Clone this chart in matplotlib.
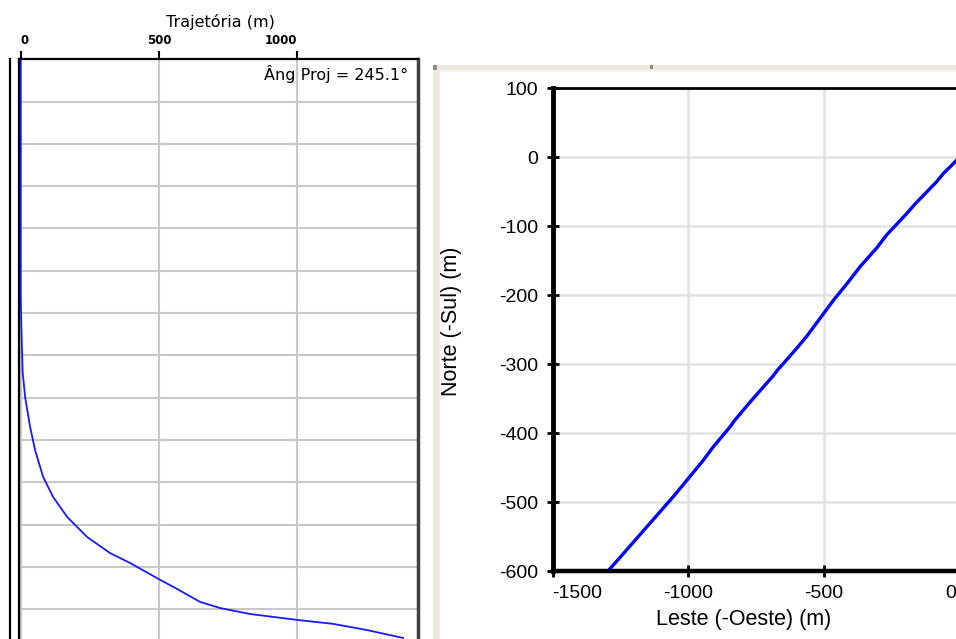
import matplotlib
matplotlib.use("Agg")
import matplotlib.pyplot as plt
from matplotlib.patches import Rectangle
from matplotlib.lines import Line2D
from matplotlib.transforms import ScaledTranslation

plt.rcParams['axes.unicode_minus'] = False

W, H = 956, 639

# perfil: afastamento horizontal (m) x profundidade (m)
afastamento = [0, 0, 3, 7, 16, 34, 52, 81, 117, 168, 240, 323, 395, 504, 565,
               648, 721, 829, 999, 1129, 1252, 1382]
profundidade = [0, 843, 971, 1109, 1198, 1304, 1386, 1481, 1552, 1623, 1694,
                1751, 1786, 1846, 1878, 1924, 1946, 1967, 1988, 2002, 2024, 2052]
ticks_traj = [0, 500, 1000]
ang_proj = 245.1

# planta: leste x norte (m)
leste = [0, -27, -58, -83, -132, -162, -193, -267, -304, -365, -414, -464, -513,
         -562, -598, -629, -672, -685, -770, -832, -844, -906, -948, -992, -1053,
         -1151, -1249, -1292]
norte = [0, -11, -23, -35, -55, -67, -81, -112, -131, -158, -183, -207, -233,
         -259, -276, -290, -309, -316, -354, -383, -390, -419, -441, -462, -491,
         -535, -579, -598]
ticks_leste = [-1500, -1000, -500, 0]
ticks_norte = [100, 0, -100, -200, -300, -400, -500, -600]


def fig_box(x0, y0, x1, y1):
    # pixel box (top-left origin) -> figure fraction rect
    return [x0 / W, 1 - y1 / H, (x1 - x0) / W, (y1 - y0) / H]


fig = plt.figure(figsize=(W / 100, H / 100), dpi=100)
fig.patch.set_facecolor('white')

# moldura bege do painel da direita
bege = '#ECE9D8'
for x0, y0, x1, y1, c in [(433, 65, 956, 70, bege), (433, 70, 956, 72, '#F6F5EF'),
                          (433, 65, 440, 639, bege),
                          (433, 65, 437, 70, '#8C8C8C'), (650, 65, 653, 69, '#8C8C8C')]:
    r = fig_box(x0, y0, x1, y1)
    fig.patches.append(Rectangle((r[0], r[1]), r[2], r[3], transform=fig.transFigure,
                                 facecolor=c, edgecolor='none', zorder=0))

# linha vertical à esquerda do perfil
fig.add_artist(Line2D([10 / W, 10 / W], [0, 1 - 59 / H], transform=fig.transFigure,
                      color='black', lw=1.6))

# ---------------- perfil (trajetória) ----------------
ax1 = fig.add_axes(fig_box(18.5, 59.3, 417.7, 700))
ax1.plot(afastamento, profundidade, color='#1a1aff', lw=1.3)
ax1.set_xlim(-8, 1435)
ax1.set_ylim(2272, 0)
ax1.xaxis.tick_top()
ax1.set_xticks(ticks_traj)
ax1.set_xticklabels([str(t) for t in ticks_traj], fontfamily='DejaVu Sans',
                    fontsize=8.5, fontweight='bold')
for lab, ha in zip(ax1.get_xticklabels(), ['left', 'center', 'right']):
    lab.set_ha(ha)
ax1.tick_params(axis='x', direction='out', length=6, width=1.5, pad=2.5, colors='black')
ax1.set_yticks(range(150, 2272, 150))
ax1.tick_params(axis='y', length=0, labelleft=False)
ax1.grid(True, color='#C8C8C8', lw=1.5)
ax1.set_axisbelow(True)
for s in ['left', 'top']:
    ax1.spines[s].set_linewidth(1.6)
ax1.spines['right'].set_linewidth(2.5)
ax1.spines['right'].set_color('#404040')
ax1.spines['bottom'].set_visible(False)
ax1.xaxis.set_label_position('top')
ax1.set_xlabel('Trajetória (m)', fontfamily='DejaVu Sans', fontsize=11.5)
ax1.xaxis.set_label_coords(0.505, 1.058)
ax1.xaxis.label.set_va('center')
ax1.text(0.9757, 0.977, f'Âng Proj = {ang_proj}°', transform=ax1.transAxes,
         ha='right', va='center', fontfamily='DejaVu Sans', fontsize=11.5)

# ---------------- planta ----------------
ax2 = fig.add_axes(fig_box(552.5, 88.3, 986.5, 571.3))
ax2.plot(leste, norte, color='#0000FF', lw=2.4, solid_capstyle='round')
ax2.set_xlim(-1500, 100)
ax2.set_ylim(-600, 100)
ax2.set_xticks(ticks_leste)
ax2.set_yticks(ticks_norte)
ax2.set_xticklabels([str(t) for t in ticks_leste], fontfamily='Liberation Sans', fontsize=14)
ax2.set_yticklabels([str(t) for t in ticks_norte], fontfamily='Liberation Sans', fontsize=14)
ax2.tick_params(direction='inout', length=8, width=2, pad=6, colors='black')
xt = ax2.xaxis.get_major_ticks()
xt[0].label1.set_ha('left')
# rótulo do zero encostado na borda direita
xt[-1].label1.set_ha('right')
xt[-1].label1.set_transform(xt[-1].label1.get_transform()
                            + ScaledTranslation(-3 / 100, 0, fig.dpi_scale_trans))
ax2.grid(True, color='#E2E2E2', lw=1.8)
ax2.set_axisbelow(True)
ax2.spines['left'].set_linewidth(3.5)
ax2.spines['bottom'].set_linewidth(3.2)
ax2.spines['top'].set_linewidth(2)
ax2.set_xlabel('Leste (-Oeste) (m)', fontfamily='Liberation Sans', fontsize=15.5)
ax2.set_ylabel('Norte (-Sul) (m)', fontfamily='Liberation Sans', fontsize=15.5)
ax2.xaxis.set_label_coords(0.441, -0.0988)
ax2.xaxis.label.set_va('center')
ax2.yaxis.set_label_coords(-0.2316, 0.5166)
ax2.yaxis.label.set_va('center')

fig.savefig('out.png', dpi=100)
